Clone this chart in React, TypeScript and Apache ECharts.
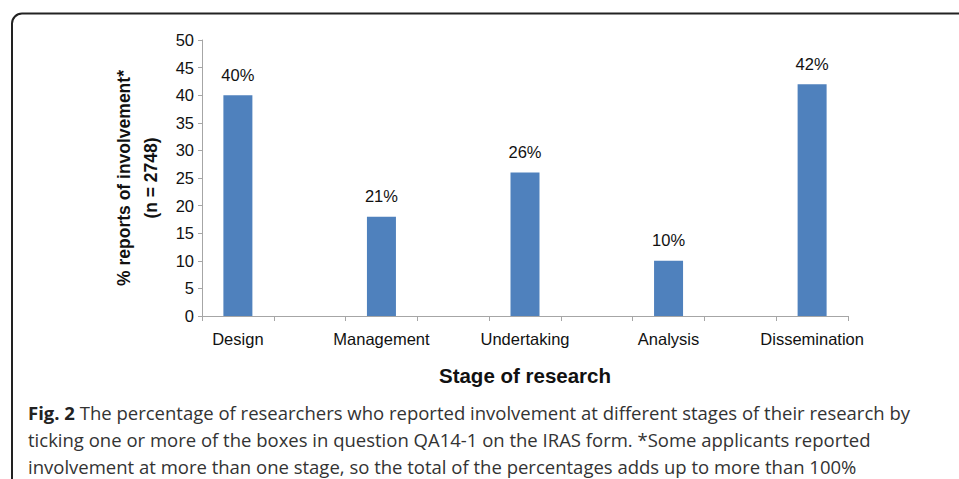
import React, { useEffect, useRef } from "react";
import * as echarts from "echarts";

const stages = ["Design", "Management", "Undertaking", "Analysis", "Dissemination"];
const values = [40, 18, 26, 10, 42];
const valueLabels = ["40%", "21%", "26%", "10%", "42%"];
const yTicks = { min: 0, max: 50, interval: 5 };
const yAxisTitle = "% reports of involvement*\n(n = 2748)";
const xAxisTitle = "Stage of research";
const captionLines = [
  "The percentage of researchers who reported involvement at different stages of their research by",
  "ticking one or more of the boxes in question QA14-1 on the IRAS form. *Some applicants reported",
  "involvement at more than one stage, so the total of the percentages adds up to more than 100%",
];

export default function App() {
  const ref = useRef<HTMLDivElement>(null);
  useEffect(() => {
    if (!ref.current) return;
    const chart = echarts.init(ref.current, null, { renderer: "svg" });
    // interleave blank slots between stages (as in the original layout)
    const cats: string[] = [];
    const data: (number | null)[] = [];
    const labs: string[] = [];
    stages.forEach((s, i) => {
      if (i > 0) {
        cats.push("");
        data.push(null);
        labs.push("");
      }
      cats.push(s);
      data.push(values[i]);
      labs.push(valueLabels[i]);
    });
    const font = "'Liberation Sans', Arial, Helvetica, sans-serif";
    const capFont = "'Open Sans', sans-serif";
    const capSize = 18.5;
    chart.setOption({
      animation: false,
      grid: { left: 202, right: 111, top: 40, bottom: 163, containLabel: false },
      xAxis: {
        type: "category",
        data: cats,
        axisLine: { show: true, lineStyle: { color: "#a6a6a6", width: 1 } },
        axisTick: { show: true, alignWithLabel: false, interval: 0, length: 5, lineStyle: { color: "#a6a6a6" } },
        axisLabel: { interval: 0, color: "#111", fontFamily: font, fontSize: 16.5, margin: 14 },
        name: xAxisTitle,
        nameLocation: "middle",
        nameGap: 49,
        nameTextStyle: { fontFamily: font, fontSize: 20.5, fontWeight: "bold", color: "#111" },
      },
      yAxis: {
        type: "value",
        min: yTicks.min,
        max: yTicks.max,
        interval: yTicks.interval,
        splitLine: { show: false },
        axisLine: { show: true, lineStyle: { color: "#a6a6a6", width: 1 } },
        axisTick: { show: true, length: 4, lineStyle: { color: "#a6a6a6" } },
        axisLabel: { color: "#111", fontFamily: font, fontSize: 16.5, margin: 8 },
        name: yAxisTitle,
        nameLocation: "middle",
        nameRotate: 90,
        nameGap: 38,
        nameTextStyle: { fontFamily: font, fontSize: 17.5, fontWeight: "bold", color: "#111", lineHeight: 27, align: "center" },
      },
      series: [
        {
          type: "bar",
          data,
          barWidth: 29,
          itemStyle: { color: "#4f81bd" },
          label: {
            show: true,
            position: "top",
            distance: 12,
            color: "#111",
            fontFamily: font,
            fontSize: 16.5,
            formatter: (p: any) => labs[p.dataIndex] || "",
          },
        },
      ],
      graphic: [
        {
          type: "rect",
          shape: { x: 12, y: 13.5, width: 1000, height: 600, r: 10 },
          style: { fill: "none", stroke: "#222", lineWidth: 2 },
          silent: true,
        },
        {
          type: "text",
          x: 28,
          y: 412,
          style: {
            text: "{b|Fig. 2} " + captionLines[0],
            fontFamily: capFont,
            fontSize: capSize,
            fill: "#333",
            verticalAlign: "middle",
            rich: {
              b: { fontFamily: capFont, fontSize: capSize, fontWeight: "bold", fill: "#222" },
            },
          },
        },
        {
          type: "text",
          x: 28,
          y: 439,
          style: { text: captionLines[1], fontFamily: capFont, fontSize: capSize, fill: "#333", verticalAlign: "middle" },
        },
        {
          type: "text",
          x: 28,
          y: 466,
          style: { text: captionLines[2], fontFamily: capFont, fontSize: capSize, fill: "#333", verticalAlign: "middle" },
        },
      ],
    });
    return () => chart.dispose();
  }, []);
  return (
    <div
      ref={ref}
      style={{ position: "absolute", left: 0, top: 0, width: 959, height: 479, background: "#fff" }}
    />
  );
}
